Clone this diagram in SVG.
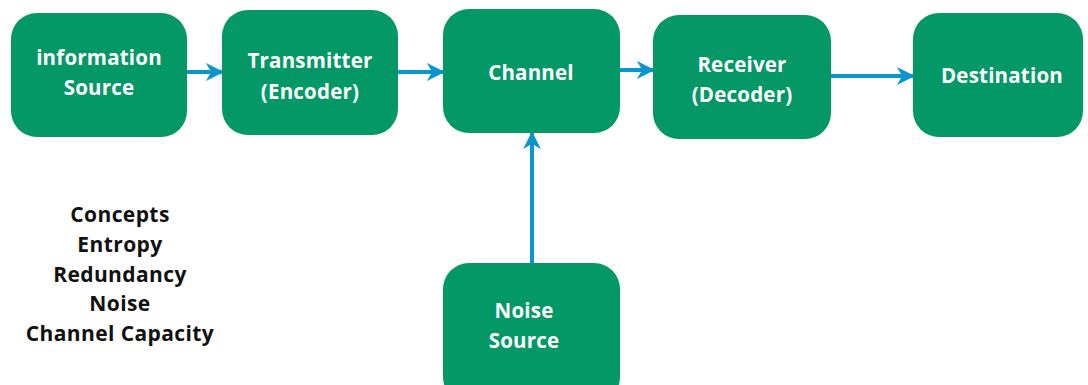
<svg xmlns="http://www.w3.org/2000/svg" width="1088" height="385" viewBox="0 0 1088 385">
<style>
.node{fill:#039865}
.lbl{font-family:"Open Sans","Liberation Sans",sans-serif;font-weight:700;font-size:20.5px;fill:#ffffff;text-anchor:middle;letter-spacing:0.2px}
.note{font-family:"Open Sans","Liberation Sans",sans-serif;font-weight:700;font-size:21px;fill:#111111;text-anchor:middle;letter-spacing:0.4px}
.edge{stroke:#0A96CC;stroke-width:4;fill:none;marker-end:url(#ah)}
</style>
<defs>
<marker id="ah" viewBox="0 0 10 10" refX="9" refY="5" markerWidth="4.5" markerHeight="4.5" orient="auto" markerUnits="strokeWidth">
<path d="M0,0 L10,5 L0,10 L3,5 Z" fill="#0A96CC"/>
</marker>
</defs>
<rect width="1088" height="385" fill="#ffffff"/>
<g id="connectors">
<line class="edge" x1="187" y1="72" x2="222" y2="72"/>
<line class="edge" x1="398" y1="72" x2="443" y2="72"/>
<line class="edge" x1="614" y1="70" x2="653" y2="70"/>
<line class="edge" x1="831" y1="76" x2="913" y2="76"/>
<line class="edge" x1="532" y1="263" x2="532" y2="133"/>
</g>
<g id="info-source">
<rect class="node" x="11" y="13" width="176" height="124" rx="26"/>
<text class="lbl" x="99" y="65">information</text>
<text class="lbl" x="99" y="95">Source</text>
</g>
<g id="transmitter">
<rect class="node" x="222" y="10" width="176" height="125" rx="26"/>
<text class="lbl" x="310" y="68">Transmitter</text>
<text class="lbl" x="310" y="99">(Encoder)</text>
</g>
<g id="channel">
<rect class="node" x="443" y="9" width="177" height="124" rx="26"/>
<text class="lbl" x="531" y="80">Channel</text>
</g>
<g id="receiver">
<rect class="node" x="653" y="15" width="178" height="124" rx="26"/>
<text class="lbl" x="742" y="72">Receiver</text>
<text class="lbl" x="742" y="102">(Decoder)</text>
</g>
<g id="destination">
<rect class="node" x="913" y="13" width="170" height="124" rx="26"/>
<text class="lbl" x="1002" y="83">Destination</text>
</g>
<g id="noise-source">
<rect class="node" x="443" y="263" width="177" height="140" rx="26"/>
<text class="lbl" x="524" y="318">Noise</text>
<text class="lbl" x="524" y="348">Source</text>
</g>
<g id="concepts">
<text class="note" x="120" y="222">Concepts</text>
<text class="note" x="120" y="252">Entropy</text>
<text class="note" x="120" y="282">Redundancy</text>
<text class="note" x="120" y="311">Noise</text>
<text class="note" x="120" y="341">Channel Capacity</text>
</g>
</svg>
